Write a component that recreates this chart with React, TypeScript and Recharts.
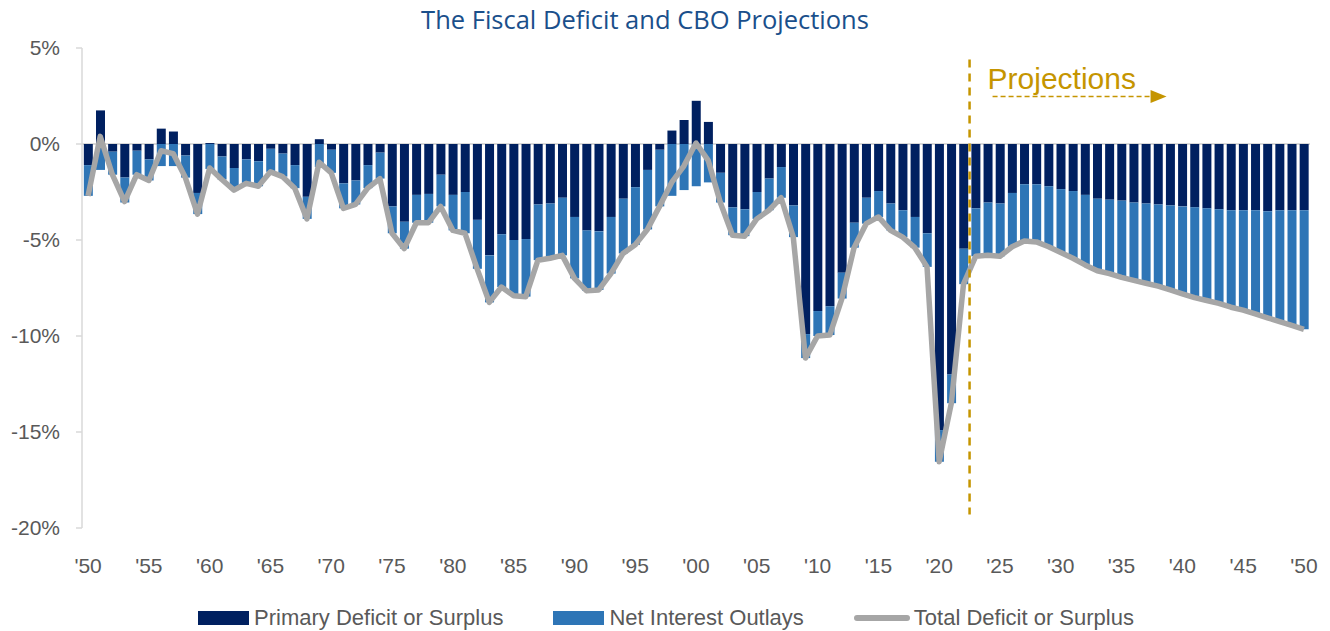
import {
  ComposedChart, Bar, Line, XAxis, YAxis, CartesianGrid, ReferenceLine, Legend,
} from 'recharts';

const DARK = '#002060';
const BLUE = '#2E75B6';
const GREY = '#A6A6A6';
const GOLD = '#C59500';
const TEXT = '#595959';

const YEARS = [
  1950, 1951, 1952, 1953, 1954, 1955, 1956, 1957, 1958, 1959,
  1960, 1961, 1962, 1963, 1964, 1965, 1966, 1967, 1968, 1969,
  1970, 1971, 1972, 1973, 1974, 1975, 1976, 1977, 1978, 1979,
  1980, 1981, 1982, 1983, 1984, 1985, 1986, 1987, 1988, 1989,
  1990, 1991, 1992, 1993, 1994, 1995, 1996, 1997, 1998, 1999,
  2000, 2001, 2002, 2003, 2004, 2005, 2006, 2007, 2008, 2009,
  2010, 2011, 2012, 2013, 2014, 2015, 2016, 2017, 2018, 2019,
  2020, 2021, 2022, 2023, 2024, 2025, 2026, 2027, 2028, 2029,
  2030, 2031, 2032, 2033, 2034, 2035, 2036, 2037, 2038, 2039,
  2040, 2041, 2042, 2043, 2044, 2045, 2046, 2047, 2048, 2049,
  2050,
];

// primary deficit (-) or surplus (+), % of GDP
const PRIMARY = [
  -1.1, 1.75, -0.4, -1.75, -0.35, -0.8, 0.8, 0.65, -0.6, -2.55,
  0.05, -0.65, -1.25, -0.8, -0.9, -0.25, -0.5, -1.1, -2.75, 0.25,
  -0.3, -2.05, -1.9, -1.1, -0.45, -3.25, -4.05, -2.65, -2.6, -1.6,
  -2.65, -2.5, -3.95, -5.8, -4.7, -5.0, -4.95, -3.15, -3.1, -2.8,
  -3.8, -4.5, -4.55, -3.8, -2.85, -2.25, -1.35, -0.3, 0.7, 1.25,
  2.25, 1.15, -1.5, -3.3, -3.4, -2.5, -1.8, -1.2, -3.2, -9.9,
  -8.7, -8.45, -6.7, -4.1, -2.8, -2.45, -3.1, -3.45, -3.8, -4.65,
  -14.9, -12.0, -5.45, -3.35, -3.05, -3.1, -2.55, -2.1, -2.1, -2.2,
  -2.35, -2.45, -2.65, -2.85, -2.9, -2.95, -3.05, -3.1, -3.15, -3.2,
  -3.25, -3.3, -3.35, -3.4, -3.45, -3.45, -3.45, -3.5, -3.45, -3.45,
  -3.45,
];

// net interest outlays, % of GDP
const INTEREST = [
  -1.6, -1.35, -1.2, -1.3, -1.25, -1.1, -1.15, -1.15, -1.15, -1.1,
  -1.3, -1.2, -1.15, -1.25, -1.3, -1.2, -1.2, -1.2, -1.15, -1.2,
  -1.2, -1.3, -1.25, -1.2, -1.35, -1.4, -1.4, -1.45, -1.5, -1.65,
  -1.85, -2.15, -2.55, -2.45, -2.75, -2.9, -3.0, -2.9, -2.85, -3.0,
  -3.2, -3.15, -3.05, -2.95, -2.85, -3.0, -3.1, -2.95, -2.7, -2.4,
  -2.2, -2.0, -1.55, -1.45, -1.4, -1.4, -1.65, -1.6, -1.65, -1.25,
  -1.3, -1.5, -1.35, -1.3, -1.35, -1.35, -1.4, -1.4, -1.6, -1.75,
  -1.65, -1.5, -1.85, -2.5, -2.75, -2.75, -2.8, -2.95, -3.0, -3.15,
  -3.3, -3.5, -3.65, -3.75, -3.85, -4.0, -4.05, -4.15, -4.25, -4.4,
  -4.55, -4.7, -4.8, -4.9, -5.05, -5.2, -5.4, -5.55, -5.8, -6.0,
  -6.2,
];

// total deficit or surplus, % of GDP
const TOTAL = [
  -2.7, 0.4, -1.6, -3.0, -1.6, -1.9, -0.35, -0.5, -1.75, -3.65,
  -1.25, -1.85, -2.4, -2.05, -2.2, -1.45, -1.7, -2.3, -3.9, -0.95,
  -1.5, -3.35, -3.15, -2.3, -1.8, -4.65, -5.45, -4.1, -4.1, -3.25,
  -4.5, -4.65, -6.5, -8.25, -7.45, -7.9, -7.95, -6.05, -5.95, -5.8,
  -7.0, -7.65, -7.6, -6.75, -5.7, -5.25, -4.45, -3.25, -2.0, -1.15,
  0.05, -0.85, -3.05, -4.75, -4.8, -3.9, -3.45, -2.8, -4.85, -11.15,
  -10.0, -9.95, -8.05, -5.4, -4.15, -3.8, -4.5, -4.85, -5.4, -6.4,
  -16.55, -13.5, -7.3, -5.85, -5.8, -5.85, -5.35, -5.05, -5.1, -5.35,
  -5.65, -5.95, -6.3, -6.6, -6.75, -6.95, -7.1, -7.25, -7.4, -7.6,
  -7.8, -8.0, -8.15, -8.3, -8.5, -8.65, -8.85, -9.05, -9.25, -9.45,
  -9.65,
];

const X_TICKS = [
  1950, 1955, 1960, 1965, 1970, 1975, 1980, 1985, 1990, 1995, 2000,
  2005, 2010, 2015, 2020, 2025, 2030, 2035, 2040, 2045, 2050,
];
const Y_TICKS = [-20, -15, -10, -5, 0, 5];

const PROJECTION_START = 2023;

const data = YEARS.map((year, i) => ({
  year,
  primary: PRIMARY[i],
  interest: INTEREST[i],
  total: TOTAL[i],
}));

function ProjectionMarker(props: any) {
  const { x1, y1, x2, y2 } = props;
  const top = Math.min(y1, y2);
  const bottom = Math.max(y1, y2);
  const ay = top + 37;
  return (
    <g>
      <line x1={x1} y1={top} x2={x2} y2={bottom} stroke={GOLD} strokeWidth={2.5} strokeDasharray="8 6" />
      <text x={x1 + 18} y={top + 29} fontSize={30} fill={GOLD} fontFamily="'Liberation Sans', Arial, sans-serif">
        Projections
      </text>
      <line x1={x1 + 23} y1={ay} x2={x1 + 182} y2={ay} stroke={GOLD} strokeWidth={1.5} strokeDasharray="5 3" />
      <polygon points={`${x1 + 181},${ay - 6.5} ${x1 + 197},${ay} ${x1 + 181},${ay + 6.5}`} fill={GOLD} />
    </g>
  );
}

function ChartLegend() {
  const item = { display: 'flex', alignItems: 'center' };
  return (
    <div style={{ display: 'flex', justifyContent: 'center', gap: 50, paddingLeft: 22, paddingTop: 4, fontSize: 22, color: TEXT }}>
      <div style={item}>
        <span style={{ width: 51, height: 14, background: DARK, marginRight: 5 }} />
        Primary Deficit or Surplus
      </div>
      <div style={item}>
        <span style={{ width: 51, height: 14, background: BLUE, marginRight: 5 }} />
        Net Interest Outlays
      </div>
      <div style={item}>
        <span style={{ width: 56, height: 6, borderRadius: 3, background: GREY, marginRight: 4 }} />
        Total Deficit or Surplus
      </div>
    </div>
  );
}

export default function App() {
  return (
    <div style={{ position: 'absolute', left: 0, top: 0, width: 1330, height: 631, background: '#fff', fontFamily: "'Liberation Sans', Arial, sans-serif" }}>
      <div style={{ position: 'absolute', top: 2, left: 0, width: 1290, textAlign: 'center', fontFamily: "'Open Sans', sans-serif", fontSize: 25.5, lineHeight: '34px', color: '#1A4F8B' }}>
        The Fiscal Deficit and CBO Projections
      </div>
      <ComposedChart
        width={1330}
        height={631}
        data={data}
        stackOffset="sign"
        barCategoryGap="15%"
        margin={{ top: 48, right: 20, bottom: 0, left: 0 }}
      >
        <CartesianGrid vertical={false} horizontalValues={[0]} stroke="#D9D9D9" strokeWidth={2} />
        <XAxis
          dataKey="year"
          ticks={X_TICKS}
          interval={0}
          height={73}
          axisLine={false}
          tickLine={false}
          tickSize={0}
          tickMargin={30}
          tick={{ fill: TEXT, fontSize: 21 }}
          tickFormatter={(v) => "'" + String(v).slice(2)}
        />
        <YAxis
          width={82}
          domain={[-20, 5]}
          ticks={Y_TICKS}
          interval={0}
          stroke="#D9D9D9"
          strokeWidth={1.5}
          tickSize={6}
          tickMargin={16}
          tick={{ fill: TEXT, fontSize: 21 }}
          tickFormatter={(v) => `${v}%`}
        />
        <Legend verticalAlign="bottom" height={30} content={() => <ChartLegend />} />
        <Bar dataKey="primary" stackId="d" fill={DARK} isAnimationActive={false} />
        <Bar dataKey="interest" stackId="d" fill={BLUE} isAnimationActive={false} />
        <Line
          dataKey="total"
          type="linear"
          stroke={GREY}
          strokeWidth={5.5}
          strokeLinejoin="round"
          dot={false}
          activeDot={false}
          isAnimationActive={false}
        />
        <ReferenceLine
          segment={[{ x: PROJECTION_START, y: 4.4 }, { x: PROJECTION_START, y: -19.3 }]}
          position="start"
          shape={ProjectionMarker}
        />
      </ComposedChart>
    </div>
  );
}
